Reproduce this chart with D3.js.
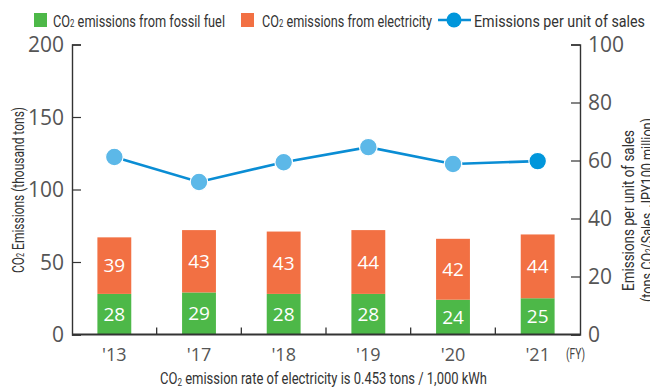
<!DOCTYPE html>
<html>
<head>
<meta charset="utf-8">
<script src="https://cdn.jsdelivr.net/npm/d3@7"></script>
<style>
  html, body { margin: 0; padding: 0; background: #fff; }
  svg { display: block; }
  .cond { font-family: "Roboto", "Liberation Sans", sans-serif; }
  .num { font-family: "Open Sans", "Noto Sans", sans-serif; }
</style>
</head>
<body>
<svg id="chart" width="650" height="388"></svg>
<script>
// Fiscal years on the x axis
const years = ["'13", "'17", "'18", "'19", "'20", "'21"];
// CO2 emissions (thousand tons)
const fossilFuel = [28, 29, 28, 28, 24, 25];
const electricity = [39, 43, 43, 44, 42, 44];
// Emissions per unit of sales (tons-CO2 / sales JPY100 million)
const perSales = [61.2, 52.6, 59.4, 64.6, 58.8, 59.8];
// Axis ticks
const leftTicks = [0, 50, 100, 150, 200];
const rightTicks = [0, 20, 40, 60, 80, 100];

const colors = { fossil: "#4db848", elec: "#f27043", line: "#0a8dd4", dot: "#5cb8e8", dotLast: "#0096db" };

const svg = d3.select("#chart");
const m = { left: 72, right: 580, top: 44.5, bottom: 334.5 };

const x = d3.scaleBand().domain(years).range([m.left, m.right]).paddingInner(0.6).paddingOuter(0.3);
const xb = d3.scaleBand().domain(years).range([m.left, m.right]);
const yL = d3.scaleLinear().domain([0, 200]).range([m.bottom, m.top]);
const yR = d3.scaleLinear().domain([0, 100]).range([m.bottom, m.top]);

const stackData = years.map((y, i) => ({ year: y, fossil: fossilFuel[i], elec: electricity[i] }));
const series = d3.stack().keys(["fossil", "elec"])(stackData);

// narrow label text: squeeze a run into a fixed width for a condensed look
function squeeze(sel, width) {
  return sel.attr("textLength", width).attr("lengthAdjust", "spacingAndGlyphs");
}

// stacked bars
const g = svg.append("g");
series.forEach(s => {
  g.selectAll(null).data(s).enter().append("rect")
    .attr("x", d => x(d.data.year))
    .attr("width", x.bandwidth())
    .attr("y", d => yL(d[1]))
    .attr("height", d => yL(d[0]) - yL(d[1]))
    .attr("fill", colors[s.key]);
  g.selectAll(null).data(s).enter().append("text")
    .attr("class", "num")
    .attr("x", d => x(d.data.year) + x.bandwidth() / 2)
    .attr("y", d => (yL(d[0]) + yL(d[1])) / 2)
    .attr("dy", "0.36em")
    .attr("text-anchor", "middle")
    .attr("fill", "#fff")
    .attr("font-size", 19)
    .text(d => d[1] - d[0]);
});

// left axis
const axL = svg.append("g").attr("transform", `translate(${m.left},0)`)
  .call(d3.axisRight(yL).tickValues(leftTicks).tickSize(9).tickFormat(""));
axL.select(".domain").attr("stroke", "#333").attr("stroke-width", 1.4);
axL.selectAll(".tick line").attr("stroke", "#333").attr("stroke-width", 1.2);
svg.append("g").selectAll("text").data(leftTicks).enter().append("text")
  .attr("class", "num").attr("x", 64).attr("y", d => yL(d)).attr("dy", "0.36em")
  .attr("text-anchor", "end").attr("font-size", 21).attr("fill", "#555").text(d => d);

// right axis
const axR = svg.append("g").attr("transform", `translate(${m.right},0)`)
  .call(d3.axisLeft(yR).tickValues(rightTicks).tickSize(9).tickFormat(""));
axR.select(".domain").attr("stroke", "#333").attr("stroke-width", 1.4);
axR.selectAll(".tick line").attr("stroke", "#333").attr("stroke-width", 1.2);
svg.append("g").selectAll("text").data(rightTicks).enter().append("text")
  .attr("class", "num").attr("x", 588).attr("y", d => yR(d)).attr("dy", "0.36em")
  .attr("text-anchor", "start").attr("font-size", 21).attr("fill", "#555").text(d => d);

// bottom axis with ticks at category boundaries
svg.append("line").attr("x1", m.left).attr("x2", m.right).attr("y1", m.bottom).attr("y2", m.bottom)
  .attr("stroke", "#333").attr("stroke-width", 2);
svg.append("g").selectAll("line").data(years.slice(1)).enter().append("line")
  .attr("x1", d => xb(d)).attr("x2", d => xb(d))
  .attr("y1", m.bottom).attr("y2", m.bottom - 7)
  .attr("stroke", "#333").attr("stroke-width", 1.3);
svg.append("g").selectAll("text").data(years).enter().append("text")
  .attr("class", "num").attr("x", d => x(d) + x.bandwidth() / 2).attr("y", 361)
  .attr("text-anchor", "middle").attr("font-size", 18).attr("fill", "#555").text(d => d);
squeeze(svg.append("text").attr("class", "cond").attr("x", 566).attr("y", 359)
  .attr("font-size", 14).attr("fill", "#444").text("(FY)"), 19);

// intensity line
const cx = i => x(years[i]) + x.bandwidth() / 2;
svg.append("path").datum(perSales)
  .attr("d", d3.line().x((d, i) => cx(i)).y(d => yR(d)))
  .attr("fill", "none").attr("stroke", colors.line).attr("stroke-width", 2.6);
svg.append("g").selectAll("circle").data(perSales).enter().append("circle")
  .attr("cx", (d, i) => cx(i)).attr("cy", d => yR(d)).attr("r", 8.8)
  .attr("fill", (d, i) => i === perSales.length - 1 ? colors.dotLast : colors.dot)
  .attr("stroke", "#fff").attr("stroke-width", 1.2);

// axis titles
squeeze(svg.append("text").attr("class", "cond")
  .attr("transform", "translate(24,273) rotate(-90)")
  .attr("font-size", 16.5).attr("fill", "#333")
  .html('CO<tspan font-size="10">2</tspan> Emissions (thousand tons)'), 166);
squeeze(svg.append("text").attr("class", "cond")
  .attr("transform", "translate(634,291) rotate(-90)")
  .attr("font-size", 16.5).attr("fill", "#333")
  .text("Emissions per unit of sales"), 161);
squeeze(svg.append("text").attr("class", "cond")
  .attr("transform", "translate(653,302) rotate(-90)")
  .attr("font-size", 16.5).attr("fill", "#333")
  .html('(tons CO<tspan font-size="10">2</tspan>/Sales, JPY100 million)'), 184);

// footnote
squeeze(svg.append("text").attr("class", "cond").attr("x", 160).attr("y", 384)
  .attr("font-size", 16).attr("fill", "#333")
  .html('CO<tspan font-size="10" dy="2">2</tspan><tspan dy="-2"> emission rate of electricity is 0.453 tons / 1,000 kWh</tspan>'), 327);

// legend
const lg = svg.append("g").attr("class", "cond").attr("font-size", 16.5).attr("fill", "#333");
lg.append("rect").attr("x", 34).attr("y", 13).attr("width", 13).attr("height", 14).attr("fill", colors.fossil);
squeeze(lg.append("text").attr("x", 53).attr("y", 26.5)
  .html('CO<tspan font-size="10">2</tspan> emissions from fossil fuel'), 172);
lg.append("rect").attr("x", 241).attr("y", 13).attr("width", 13).attr("height", 14).attr("fill", colors.elec);
squeeze(lg.append("text").attr("x", 262).attr("y", 26.5)
  .html('CO<tspan font-size="10">2</tspan> emissions from electricity'), 170);
lg.append("line").attr("x1", 438).attr("x2", 471).attr("y1", 20).attr("y2", 20)
  .attr("stroke", colors.line).attr("stroke-width", 2.6);
lg.append("circle").attr("cx", 454).attr("cy", 20).attr("r", 7.5).attr("fill", colors.dotLast);
squeeze(lg.append("text").attr("x", 474).attr("y", 26.5).text("Emissions per unit of sales"), 171);
</script>
</body>
</html>
